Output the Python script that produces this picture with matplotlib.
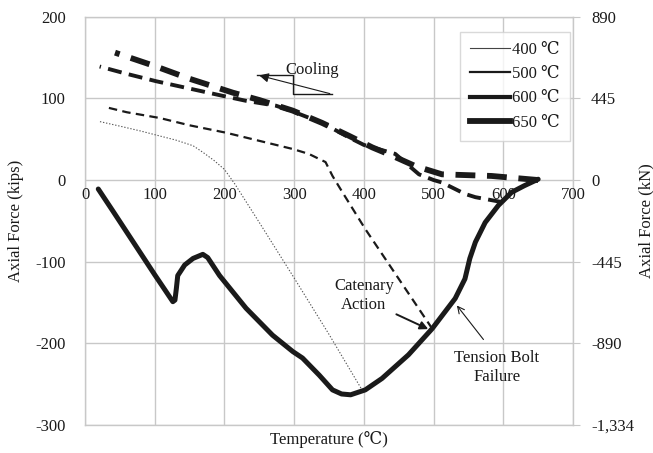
import matplotlib
matplotlib.use("Agg")
import matplotlib.pyplot as plt
from matplotlib.lines import Line2D

plt.rcParams['font.family'] = ['Liberation Serif', 'DejaVu Serif']
plt.rcParams['axes.unicode_minus'] = False

# ---- data ----
heat_T = [19, 40, 60, 80, 100, 115, 126, 129, 131, 133, 143, 155, 169, 176, 193, 231, 269, 298, 312, 336,
          355, 368, 381, 402, 426, 464, 498, 531, 545, 552, 560, 574, 593, 612, 630, 650]
heat_F = [-11, -38, -64, -90, -116, -135, -149, -147, -133, -117, -104, -96, -91, -95, -117, -157, -190, -210,
          -218, -239, -257, -262, -263, -257, -243, -214, -182, -145, -121, -96, -76, -52, -31, -15, -7, 1]

cool400_T = [398, 350, 300, 250, 215, 200, 185, 169, 155, 130, 107, 80, 50, 19]
cool400_F = [-258, -189, -120, -52, -5, 13, 24, 34, 42, 49, 54, 60, 66, 72]

cool500_T = [498, 450, 402, 370, 355, 345, 321, 298, 250, 202, 150, 107, 60, 31]
cool500_F = [-182, -121, -60, -16, 5, 22, 32, 38, 48, 58, 67, 76, 83, 89]

cool600_T = [598, 560, 545, 512, 500, 479, 445, 400, 379, 340, 298, 274, 231, 198, 150, 102, 60, 21]
cool600_F = [-27, -21, -17, -3, 0, 7, 32, 43, 52, 70, 84, 91, 97, 103, 112, 121, 130, 139]

cool650_T = [650, 583, 512, 474, 440, 412, 379, 340, 298, 250, 212, 150, 102, 43]
cool650_F = [0, 5, 7, 17, 30, 40, 54, 70, 85, 98, 107, 124, 139, 156]

legend_labels = ['400 ℃', '500 ℃', '600 ℃', '650 ℃']
x_ticks = [0, 100, 200, 300, 400, 500, 600, 700]
y_ticks = [-300, -200, -100, 0, 100, 200]
kn_labels = ['-1,334', '-890', '-445', '0', '445', '890']

# ---- figure ----
fig = plt.figure(figsize=(6.53, 4.53), dpi=100)
ax = fig.add_axes([0.1302, 0.0618, 0.7473, 0.9013])
ink = '#1a1a1a'
gridc = '#c8c8c8'

ax.set_xlim(0, 700)
ax.set_ylim(-300, 200)
ax.set_xticks(x_ticks)
ax.set_yticks(y_ticks)
ax.grid(True, color=gridc, lw=1.0)
ax.set_axisbelow(True)
for s in ax.spines.values():
    s.set_color(gridc)
    s.set_linewidth(1.0)
ax.tick_params(axis='x', length=0, labelbottom=False)
ax.tick_params(axis='y', length=0, labelsize=12, pad=14, colors=ink)
ax.set_yticklabels([str(v) for v in y_ticks])

# x tick labels along y = 0
for v in x_ticks:
    ax.annotate(str(v), xy=(v, 0), xytext=(0, -5), textcoords='offset points',
                ha='center', va='top', fontsize=12, color=ink, zorder=3)

# right axis
ax2 = ax.twinx()
ax2.set_ylim(-300, 200)
ax2.set_yticks(y_ticks)
ax2.set_yticklabels(kn_labels)
ax2.tick_params(axis='y', length=5, color=gridc, labelsize=12, pad=8, labelcolor=ink)
for s in ax2.spines.values():
    s.set_visible(False)

# lines
ax.plot(heat_T, heat_F, color=ink, lw=3.6, solid_capstyle='round', solid_joinstyle='round', zorder=5)
ax.plot(cool400_T, cool400_F, color='#555555', lw=0.8, dashes=(1.2, 1.6), zorder=4)
ax.plot(cool500_T, cool500_F, color=ink, lw=1.6, dashes=(3.8, 2.4), zorder=4)
ax.plot(cool600_T, cool600_F, color=ink, lw=2.8, dashes=(3.6, 1.9), zorder=4)
ax.plot(cool650_T, cool650_F, color=ink, lw=4.2, dashes=(3.4, 2.0), zorder=4)

handles = [Line2D([], [], color='#444444', lw=0.8),
           Line2D([], [], color=ink, lw=1.6),
           Line2D([], [], color=ink, lw=3.0),
           Line2D([], [], color=ink, lw=4.2)]
leg = ax.legend(handles, legend_labels, loc='upper right', bbox_to_anchor=(0.993, 0.963),
                fontsize=12, frameon=True, fancybox=False, handlelength=2.4, handletextpad=0.1,
                borderpad=0.6, labelspacing=0.5, borderaxespad=0.0)
leg.get_frame().set_edgecolor('#d0d0d0')
leg.get_frame().set_linewidth(1.0)
for t in leg.get_texts():
    t.set_color(ink)

# annotations
ax.text(326, 135, 'Cooling', fontsize=12, ha='center', va='center', color=ink)
ax.plot([246, 298, 298, 355], [129, 129, 105, 105], color=ink, lw=1.0)
ax.annotate('', xy=(246, 129), xytext=(355, 105),
            arrowprops=dict(arrowstyle='-|>', color=ink, lw=0.8, mutation_scale=14))

ax.text(400, -141, 'Catenary\nAction', fontsize=12, ha='center', va='center', color=ink, linespacing=1.25)
ax.annotate('', xy=(496, -184), xytext=(443, -163),
            arrowprops=dict(arrowstyle='-|>', color=ink, lw=1.4, mutation_scale=12))

ax.text(591, -230, 'Tension Bolt\nFailure', fontsize=12, ha='center', va='center', color=ink, linespacing=1.25)
ax.annotate('', xy=(531, -151), xytext=(574, -198),
            arrowprops=dict(arrowstyle='->', color=ink, lw=0.8, mutation_scale=12))

ax.set_ylabel('Axial Force (kips)', fontsize=12, color=ink, labelpad=8)
ax2.set_ylabel('Axial Force (kN)', fontsize=12, color=ink, labelpad=3)
ax.set_xlabel('Temperature (℃)', fontsize=12, color=ink, labelpad=4)

fig.savefig('out.png', dpi=100)
